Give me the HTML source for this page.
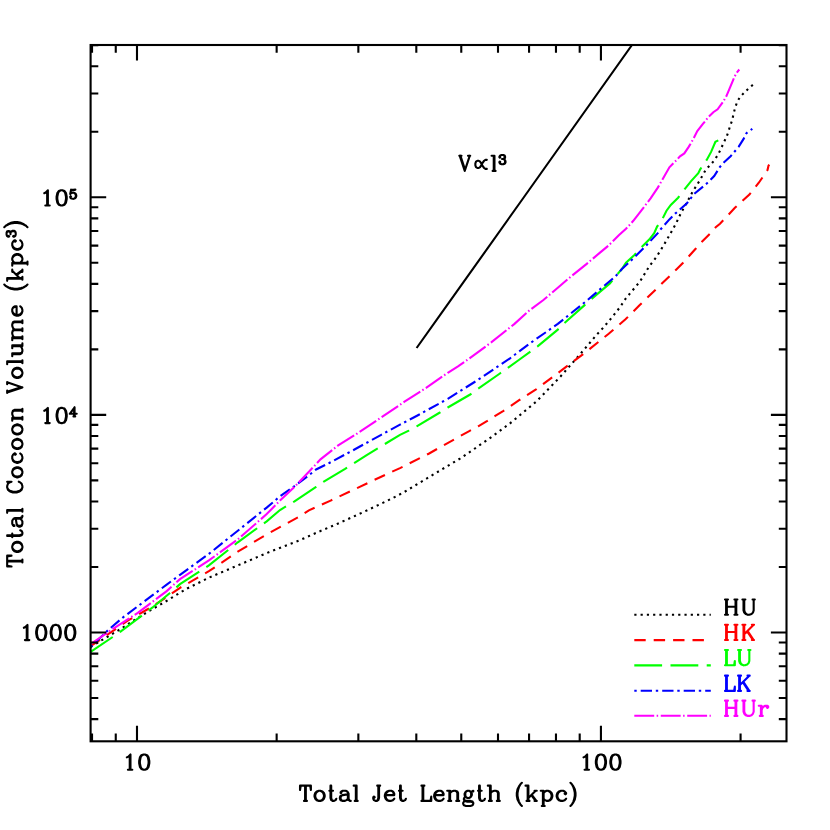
<!DOCTYPE html>
<html><head><meta charset="utf-8"><title>Total Cocoon Volume vs Total Jet Length</title>
<style>html,body{margin:0;padding:0;background:#fff;font-family:"Liberation Sans",sans-serif}svg{display:block}</style></head><body>
<svg width="830" height="830" viewBox="0 0 830 830">
<rect x="0" y="0" width="830" height="830" fill="#fff"/>
<defs><clipPath id="c"><rect x="90.6" y="45" width="695.9" height="696.3"/></clipPath></defs>
<g fill="none" stroke-width="2.1" clip-path="url(#c)">
<path d="M90.6 647L101.7 640.2L117.6 630.8L133.5 620.7L149.4 610.8L165.3 601.7L181.2 592L187.2 588.5L208.9 577.7L237.8 565.4L266.7 553.1L300 540.1L318.3 531.9L335.7 524.6L352.3 517.1L369.6 509.2L387 500.9L398.5 495.1L404.6 491.8L428.7 477.3L460 458.6L488.3 439.3L510 423.4L536.4 401.5L560.5 376.5L578.8 355.7L588.2 344.8L596.1 335.4L604.1 326.7L612 317.3L620 307.2L625.5 298.8L640 281.5L649.2 266.4L656.4 257L663.6 245.4L669.4 235.3L675.9 223.7L681 212.9L686.7 202.8L692.5 191.9L699.8 180.4L706 169.3L710.4 164.9L714.7 159.9L718.3 154.1L721.2 148.3L723.4 143.2L726.3 137.5L728.4 131.7L729.9 126.6L732 120.8L733.5 114.3L734.9 108.6L737.1 102L740 97L744.3 92.6L748.7 88.3L753 84.7" stroke="#000000" stroke-dasharray="2.2 4.07" stroke-dashoffset="0"/>
<path d="M90.6 646.2L108.9 633.7L127.7 620.7L148 609L161 600.8L180 587.8L208.9 571.2L237.8 551.7L266.7 534.3L300 516.3L308.9 510.3L330.6 500.6L356.6 488.3L381.2 476.7L400 468.1L428.7 453.7L460.8 435.7L468.8 431.3L478.2 426.3L486.9 421.2L494.8 416.1L503.5 410.8L519.5 400L536.4 389.2L560.5 371.1L584.6 353L608.7 333.7L625.5 319.3L640 304.8L676.6 269.3L683.1 262.8L688.9 256.3L696.1 248.3L701.9 241.8L709.9 233.9L715.7 227.3L720 223.7L734.9 207.8L749.4 194.6L759 182.5L767.5 170L768.5 165.7L769.3 164.6" stroke="#ff0000" stroke-dasharray="11.4 8" stroke-dashoffset="0"/>
<path d="M90.6 651.8L113.3 636.6L120.5 631.6L137.8 618.6L152.3 607.7L169.6 593.3L180 584.2L208.9 565.4L237.8 542.3L266.7 521.3L280 510L294.5 501.3L316.1 486.9L323.4 481.8L345.1 468.8L366.7 455.1L400 434.8L408.8 430.6L416.7 426.3L439.9 412.5L447.8 407.5L470.2 394.5L478.2 388.7L499.9 373.5L510 366.3L518.8 360L537.6 346.3L557.8 329.6L564.3 323.1L584.6 305.1L591.1 299.3L609.9 283.4L620 271.1L621.7 269.3L626 262.8L634.7 254.8L641.2 247.6L649.2 239.6L654.2 233.1L657.1 226.6L662.2 219.4L666.5 210.7L670.8 204.9L678.1 197.7L683.1 191.2L685.3 188.3L691.1 181.1L698.3 173.1L700.2 169.3L706.7 159.9L711.1 151.9L715.4 141.8L718.3 140.4" stroke="#00ff00" stroke-dasharray="27.8 8.4" stroke-dashoffset="1.2"/>
<path d="M90.6 646.9L108.9 629.4L123.4 617.1L137.8 606.3L152.3 595.4L166.7 584.6L180 574.8L208.9 553.9L237.8 530.7L266.7 507.6L280 496.3L294.5 486.1L308.9 475.3L316.1 469.5L329.2 463L352.3 450.7L381.2 434.8L400 424.7L418.9 414.7L447.8 398.8L476.7 380.7L510 358.3L528.9 344.1L557.8 323.9L572.3 312.3L586.7 300.7L601.2 288.4L615.7 276.1L621.7 269.3L633.3 258.4L646.3 245.4L657.8 233.1L660.7 229.2L669.4 219.4L675.2 213.6L686.7 203.5L694 194.1L707 183.3L714.2 176L719.8 167.1L723.4 162.8L730.6 156.3L734.9 151.2L738.6 146.9L743.6 138.9L746.5 133.1L752.3 128.8" stroke="#0000ff" stroke-dasharray="2.4 4 11.3 3.8" stroke-dashoffset="0"/>
<path d="M90.6 644L108.9 631.6L123.4 622.2L137.8 612.8L152.3 601.9L166.7 591.1L180 579.1L208.9 560.4L237.8 539.4L266.7 514.1L280 500.6L294.5 486.9L308.9 471.7L320.5 459.4L337.8 445.7L355.2 434.8L381.2 417.5L404.5 401.7L426.1 387.9L447.8 372.8L458 366.3L469.5 358.3L491.2 342.4L514.5 323.9L528.9 310.8L543.4 300L557.8 287.7L572.3 275.4L586.7 263.9L600 252.6L608.7 245.4L618.8 235.3L626 228.8L633.3 220.8L643.4 207.8L650.6 198.4L657.8 187.6L663.6 177.5L669.4 167.3L676.6 160.1L680 156.3L684.3 153.4L688.7 146.9L693 139.6L697.3 131L703.1 123.7L708.9 116.5L713.3 112.2L717.6 109.3L723.4 101.3L726.3 96.3L730.6 86.1L734.2 77.5L736.4 73.1L739.3 69.5" stroke="#ff00ff" stroke-dasharray="19.9 2.45 1.5 2.6" stroke-dashoffset="0"/>
<path d="M416.6 348L440 315.2L521.9 200L632 45" stroke="#000"/>
</g>
<g fill="none" stroke-width="2.1">
<path d="M634.3 614.8L710.8 614.8" stroke="#000000" stroke-dasharray="2.2 4.07"/>
<path d="M634.3 640.1L710.8 640.1" stroke="#ff0000" stroke-dasharray="11.4 8"/>
<path d="M634.3 665.4L710.8 665.4" stroke="#00ff00" stroke-dasharray="27.8 8.4"/>
<path d="M634.3 690.8L710.8 690.8" stroke="#0000ff" stroke-dasharray="2.4 4 11.3 3.8"/>
<path d="M634.3 715.8L710.8 715.8" stroke="#ff00ff" stroke-dasharray="19.9 2.45 1.5 2.6"/>
</g>
<g fill="none" stroke="#000" stroke-width="2.1">
<rect x="90.6" y="45" width="695.9" height="696.3"/>
<path d="M92.03 741.3v-7.7M92.03 45v7.7M115.76 741.3v-7.7M115.76 45v7.7M136.99 741.3v-15.6M136.99 45v15.6M276.65 741.3v-7.7M276.65 45v7.7M358.35 741.3v-7.7M358.35 45v7.7M416.31 741.3v-7.7M416.31 45v7.7M461.27 741.3v-7.7M461.27 45v7.7M498 741.3v-7.7M498 45v7.7M529.06 741.3v-7.7M529.06 45v7.7M555.97 741.3v-7.7M555.97 45v7.7M579.7 741.3v-7.7M579.7 45v7.7M600.93 741.3v-15.6M600.93 45v15.6M740.58 741.3v-7.7M740.58 45v7.7M90.6 719.09h7.7M786.5 719.09h-7.7M90.6 698.01h7.7M786.5 698.01h-7.7M90.6 680.78h7.7M786.5 680.78h-7.7M90.6 666.21h7.7M786.5 666.21h-7.7M90.6 653.59h7.7M786.5 653.59h-7.7M90.6 642.46h7.7M786.5 642.46h-7.7M90.6 632.5h15.6M786.5 632.5h-15.6M90.6 567h7.7M786.5 567h-7.7M90.6 528.68h7.7M786.5 528.68h-7.7M90.6 501.5h7.7M786.5 501.5h-7.7M90.6 480.41h7.7M786.5 480.41h-7.7M90.6 463.18h7.7M786.5 463.18h-7.7M90.6 448.62h7.7M786.5 448.62h-7.7M90.6 436h7.7M786.5 436h-7.7M90.6 424.87h7.7M786.5 424.87h-7.7M90.6 414.91h15.6M786.5 414.91h-15.6M90.6 349.41h7.7M786.5 349.41h-7.7M90.6 311.09h7.7M786.5 311.09h-7.7M90.6 283.9h7.7M786.5 283.9h-7.7M90.6 262.82h7.7M786.5 262.82h-7.7M90.6 245.59h7.7M786.5 245.59h-7.7M90.6 231.02h7.7M786.5 231.02h-7.7M90.6 218.4h7.7M786.5 218.4h-7.7M90.6 207.27h7.7M786.5 207.27h-7.7M90.6 197.32h15.6M786.5 197.32h-15.6M90.6 131.81h7.7M786.5 131.81h-7.7M90.6 93.5h7.7M786.5 93.5h-7.7M90.6 66.31h7.7M786.5 66.31h-7.7M90.6 45.22h7.7M786.5 45.22h-7.7"/>
</g>
<g fill="none" stroke-width="2.1" stroke-linecap="round" stroke-linejoin="round">
<path d="M305.1 785.67L305.1 800.9M305.83 785.67L305.83 800.9M300.75 785.67L300.02 790.02L300.02 785.67L310.9 785.67L310.9 790.02L310.18 785.67M303.98 800.9L306.95 800.9M318.88 790.75L316.7 791.48L315.25 792.92L314.53 795.1L314.53 796.55L315.25 798.73L316.7 800.17L318.88 800.9L320.33 800.9L322.5 800.17L323.95 798.73L324.68 796.55L324.68 795.1L323.95 792.92L322.5 791.48L320.33 790.75L318.88 790.75M318.88 790.75L317.43 791.48L315.98 792.92L315.25 795.1L315.25 796.55L315.98 798.73L317.43 800.17L318.88 800.9M320.33 800.9L321.78 800.17L323.23 798.73L323.95 796.55L323.95 795.1L323.23 792.92L321.78 791.48L320.33 790.75M330.48 785.67L330.48 798L331.2 800.17L332.65 800.9L334.1 800.9L335.55 800.17L336.27 798.73M331.2 785.67L331.2 798L331.93 800.17L332.65 800.9M329.35 790.75L333.05 790.75M341.35 792.2L341.35 792.92L340.62 792.92L340.62 792.2L341.35 791.48L342.8 790.75L345.7 790.75L347.15 791.48L347.88 792.2L348.6 793.65L348.6 798.73L349.33 800.17L350.05 800.9M347.88 792.2L347.88 798.73L348.6 800.17L350.05 800.9L350.77 800.9M347.88 793.65L347.15 794.38L342.8 795.1L340.62 795.82L339.9 797.27L339.9 798.73L340.62 800.17L342.8 800.9L344.98 800.9L346.43 800.17L347.88 798.73M342.8 795.1L341.35 795.82L340.62 797.27L340.62 798.73L341.35 800.17L342.8 800.9M355.85 785.67L355.85 800.9M356.58 785.67L356.58 800.9M353.68 785.67L356.58 785.67M354.73 800.9L357.7 800.9M379.05 785.67L379.05 798L378.33 800.17L376.88 800.9L375.43 800.9L373.98 800.17L373.25 798.73L373.25 797.27L373.98 796.55L374.7 797.27L373.98 798M378.33 785.67L378.33 798L377.6 800.17L376.88 800.9M377.2 785.67L380.17 785.67M385.58 795.1L394.27 795.1L394.27 793.65L393.55 792.2L392.83 791.48L391.38 790.75L389.2 790.75L387.02 791.48L385.58 792.92L384.85 795.1L384.85 796.55L385.58 798.73L387.02 800.17L389.2 800.9L390.65 800.9L392.83 800.17L394.27 798.73M393.55 795.1L393.55 792.92L392.83 791.48M389.2 790.75L387.75 791.48L386.3 792.92L385.58 795.1L385.58 796.55L386.3 798.73L387.75 800.17L389.2 800.9M400.08 785.67L400.08 798L400.8 800.17L402.25 800.9L403.7 800.9L405.15 800.17L405.88 798.73M400.8 785.67L400.8 798L401.53 800.17L402.25 800.9M398.95 790.75L402.65 790.75M422.55 785.67L422.55 800.9M423.27 785.67L423.27 800.9M421.43 785.67L424.4 785.67M421.43 800.9L431.25 800.9L431.25 796.55L430.52 800.9M434.88 795.1L443.58 795.1L443.58 793.65L442.85 792.2L442.12 791.48L440.68 790.75L438.5 790.75L436.33 791.48L434.88 792.92L434.15 795.1L434.15 796.55L434.88 798.73L436.33 800.17L438.5 800.9L439.95 800.9L442.12 800.17L443.58 798.73M442.85 795.1L442.85 792.92L442.12 791.48M438.5 790.75L437.05 791.48L435.6 792.92L434.88 795.1L434.88 796.55L435.6 798.73L437.05 800.17L438.5 800.9M449.38 790.75L449.38 800.9M450.1 790.75L450.1 800.9M450.1 792.92L451.55 791.48L453.73 790.75L455.18 790.75L457.35 791.48L458.08 792.92L458.08 800.9M455.18 790.75L456.62 791.48L457.35 792.92L457.35 800.9M447.2 790.75L450.1 790.75M448.25 800.9L451.22 800.9M456.23 800.9L459.2 800.9M467.5 790.75L466.05 791.48L465.33 792.2L464.6 793.65L464.6 795.1L465.33 796.55L466.05 797.27L467.5 798L468.95 798L470.4 797.27L471.12 796.55L471.85 795.1L471.85 793.65L471.12 792.2L470.4 791.48L468.95 790.75L467.5 790.75M466.05 791.48L465.33 792.92L465.33 795.82L466.05 797.27M470.4 797.27L471.12 795.82L471.12 792.92L470.4 791.48M471.12 792.2L471.85 791.48L473.3 790.75L473.3 791.48L471.85 791.48M465.33 796.55L464.6 797.27L463.88 798.73L463.88 799.45L464.6 800.9L466.77 801.62L470.4 801.62L472.58 802.35L473.3 803.07M463.88 799.45L464.6 800.17L466.77 800.9L470.4 800.9L472.58 801.62L473.3 803.07L473.3 803.8L472.58 805.25L470.4 805.98L466.05 805.98L463.88 805.25L463.15 803.8L463.15 803.07L463.88 801.62L466.05 800.9M479.1 785.67L479.1 798L479.83 800.17L481.28 800.9L482.73 800.9L484.18 800.17L484.9 798.73M479.83 785.67L479.83 798L480.55 800.17L481.28 800.9M477.98 790.75L481.67 790.75M489.98 785.67L489.98 800.9M490.7 785.67L490.7 800.9M490.7 792.92L492.15 791.48L494.33 790.75L495.78 790.75L497.95 791.48L498.68 792.92L498.68 800.9M495.78 790.75L497.23 791.48L497.95 792.92L497.95 800.9M487.8 785.67L490.7 785.67M488.85 800.9L491.82 800.9M496.83 800.9L499.8 800.9M521.88 782.77L520.42 784.23L518.98 786.4L517.52 789.3L516.8 792.92L516.8 795.82L517.52 799.45L518.98 802.35L520.42 804.52L521.88 805.98M520.42 784.23L518.98 787.12L518.25 789.3L517.52 792.92L517.52 795.82L518.25 799.45L518.98 801.62L520.42 804.52M527.67 785.67L527.67 800.9M528.4 785.67L528.4 800.9M535.65 790.75L528.4 798M532.02 795.1L536.38 800.9M531.3 795.1L535.65 800.9M525.5 785.67L528.4 785.67M534.53 790.75L536.77 790.75M526.55 800.9L529.52 800.9M534.53 800.9L536.77 800.9M542.9 790.75L542.9 805.98M543.62 790.75L543.62 805.98M543.62 792.92L545.08 791.48L546.52 790.75L547.98 790.75L550.15 791.48L551.6 792.92L552.33 795.1L552.33 796.55L551.6 798.73L550.15 800.17L547.98 800.9L546.52 800.9L545.08 800.17L543.62 798.73M547.98 790.75L549.42 791.48L550.88 792.92L551.6 795.1L551.6 796.55L550.88 798.73L549.42 800.17L547.98 800.9M540.73 790.75L543.62 790.75M541.78 805.98L544.75 805.98M565.38 792.92L564.65 793.65L565.38 794.38L566.1 793.65L566.1 792.92L564.65 791.48L563.2 790.75L561.02 790.75L558.85 791.48L557.4 792.92L556.67 795.1L556.67 796.55L557.4 798.73L558.85 800.17L561.02 800.9L562.48 800.9L564.65 800.17L566.1 798.73M561.02 790.75L559.58 791.48L558.12 792.92L557.4 795.1L557.4 796.55L558.12 798.73L559.58 800.17L561.02 800.9M570.45 782.77L571.9 784.23L573.35 786.4L574.8 789.3L575.52 792.92L575.52 795.82L574.8 799.45L573.35 802.35L571.9 804.52L570.45 805.98M571.9 784.23L573.35 787.12L574.08 789.3L574.8 792.92L574.8 795.82L574.08 799.45L573.35 801.62L571.9 804.52" stroke="#000"/>
<path d="M7.17 561.44L22.4 561.44M7.17 560.71L22.4 560.71M7.17 565.79L11.52 566.51L7.17 566.51L7.17 555.64L11.52 555.64L7.17 556.36M22.4 562.56L22.4 559.59M12.25 547.66L12.97 549.84L14.42 551.29L16.6 552.01L18.05 552.01L20.22 551.29L21.67 549.84L22.4 547.66L22.4 546.21L21.67 544.04L20.22 542.59L18.05 541.86L16.6 541.86L14.42 542.59L12.97 544.04L12.25 546.21L12.25 547.66M12.25 547.66L12.97 549.11L14.42 550.56L16.6 551.29L18.05 551.29L20.22 550.56L21.67 549.11L22.4 547.66M22.4 546.21L21.67 544.76L20.22 543.31L18.05 542.59L16.6 542.59L14.42 543.31L12.97 544.76L12.25 546.21M7.17 536.06L19.5 536.06L21.67 535.34L22.4 533.89L22.4 532.44L21.67 530.99L20.22 530.26M7.17 535.34L19.5 535.34L21.67 534.61L22.4 533.89M12.25 537.19L12.25 533.49M13.7 525.19L14.42 525.19L14.42 525.91L13.7 525.91L12.97 525.19L12.25 523.74L12.25 520.84L12.97 519.39L13.7 518.66L15.15 517.94L20.22 517.94L21.67 517.21L22.4 516.49M13.7 518.66L20.22 518.66L21.67 517.94L22.4 516.49L22.4 515.76M15.15 518.66L15.87 519.39L16.6 523.74L17.32 525.91L18.77 526.64L20.22 526.64L21.67 525.91L22.4 523.74L22.4 521.56L21.67 520.11L20.22 518.66M16.6 523.74L17.32 525.19L18.77 525.91L20.22 525.91L21.67 525.19L22.4 523.74M7.17 510.69L22.4 510.69M7.17 509.96L22.4 509.96M7.17 512.86L7.17 509.96M22.4 511.81L22.4 508.84M9.35 482.41L11.52 481.69L7.17 481.69L9.35 482.41L7.9 483.86L7.17 486.04L7.17 487.49L7.9 489.66L9.35 491.11L10.8 491.84L12.97 492.56L16.6 492.56L18.77 491.84L20.22 491.11L21.67 489.66L22.4 487.49L22.4 486.04L21.67 483.86L20.22 482.41L18.77 481.69M7.17 487.49L7.9 488.94L9.35 490.39L10.8 491.11L12.97 491.84L16.6 491.84L18.77 491.11L20.22 490.39L21.67 488.94L22.4 487.49M12.25 472.99L12.97 475.16L14.42 476.61L16.6 477.34L18.05 477.34L20.22 476.61L21.67 475.16L22.4 472.99L22.4 471.54L21.67 469.36L20.22 467.91L18.05 467.19L16.6 467.19L14.42 467.91L12.97 469.36L12.25 471.54L12.25 472.99M12.25 472.99L12.97 474.44L14.42 475.89L16.6 476.61L18.05 476.61L20.22 475.89L21.67 474.44L22.4 472.99M22.4 471.54L21.67 470.09L20.22 468.64L18.05 467.91L16.6 467.91L14.42 468.64L12.97 470.09L12.25 471.54M14.42 454.14L15.15 454.86L15.87 454.14L15.15 453.41L14.42 453.41L12.97 454.86L12.25 456.31L12.25 458.49L12.97 460.66L14.42 462.11L16.6 462.84L18.05 462.84L20.22 462.11L21.67 460.66L22.4 458.49L22.4 457.04L21.67 454.86L20.22 453.41M12.25 458.49L12.97 459.94L14.42 461.39L16.6 462.11L18.05 462.11L20.22 461.39L21.67 459.94L22.4 458.49M12.25 444.71L12.97 446.89L14.42 448.34L16.6 449.06L18.05 449.06L20.22 448.34L21.67 446.89L22.4 444.71L22.4 443.26L21.67 441.09L20.22 439.64L18.05 438.91L16.6 438.91L14.42 439.64L12.97 441.09L12.25 443.26L12.25 444.71M12.25 444.71L12.97 446.16L14.42 447.61L16.6 448.34L18.05 448.34L20.22 447.61L21.67 446.16L22.4 444.71M22.4 443.26L21.67 441.81L20.22 440.36L18.05 439.64L16.6 439.64L14.42 440.36L12.97 441.81L12.25 443.26M12.25 430.21L12.97 432.39L14.42 433.84L16.6 434.56L18.05 434.56L20.22 433.84L21.67 432.39L22.4 430.21L22.4 428.76L21.67 426.59L20.22 425.14L18.05 424.41L16.6 424.41L14.42 425.14L12.97 426.59L12.25 428.76L12.25 430.21M12.25 430.21L12.97 431.66L14.42 433.11L16.6 433.84L18.05 433.84L20.22 433.11L21.67 431.66L22.4 430.21M22.4 428.76L21.67 427.31L20.22 425.86L18.05 425.14L16.6 425.14L14.42 425.86L12.97 427.31L12.25 428.76M12.25 418.61L22.4 418.61M12.25 417.89L22.4 417.89M14.42 417.89L12.97 416.44L12.25 414.26L12.25 412.81L12.97 410.64L14.42 409.91L22.4 409.91M12.25 412.81L12.97 411.36L14.42 410.64L22.4 410.64M12.25 420.79L12.25 417.89M22.4 419.74L22.4 416.76M22.4 411.76L22.4 408.79M7.17 392.51L22.4 387.44M7.17 391.79L20.22 387.44M7.17 382.36L22.4 387.44M7.17 392.91L7.17 390.66M7.17 384.21L7.17 381.96M12.25 373.66L12.97 375.84L14.42 377.29L16.6 378.01L18.05 378.01L20.22 377.29L21.67 375.84L22.4 373.66L22.4 372.21L21.67 370.04L20.22 368.59L18.05 367.86L16.6 367.86L14.42 368.59L12.97 370.04L12.25 372.21L12.25 373.66M12.25 373.66L12.97 375.11L14.42 376.56L16.6 377.29L18.05 377.29L20.22 376.56L21.67 375.11L22.4 373.66M22.4 372.21L21.67 370.76L20.22 369.31L18.05 368.59L16.6 368.59L14.42 369.31L12.97 370.76L12.25 372.21M7.18 362.06L22.4 362.06M7.18 361.34L22.4 361.34M7.18 364.24L7.18 361.34M22.4 363.19L22.4 360.21M12.25 354.09L20.23 354.09L21.68 353.36L22.4 351.19L22.4 349.74L21.68 347.56L20.23 346.11M12.25 353.36L20.23 353.36L21.68 352.64L22.4 351.19M12.25 346.11L22.4 346.11M12.25 345.39L22.4 345.39M12.25 356.26L12.25 353.36M12.25 348.29L12.25 345.39M22.4 346.11L22.4 343.21M12.25 338.14L22.4 338.14M12.25 337.41L22.4 337.41M14.43 337.41L12.98 335.96L12.25 333.79L12.25 332.34L12.98 330.16L14.43 329.44L22.4 329.44M12.25 332.34L12.98 330.89L14.43 330.16L22.4 330.16M14.43 329.44L12.98 327.99L12.25 325.81L12.25 324.36L12.98 322.19L14.43 321.46L22.4 321.46M12.25 324.36L12.98 322.91L14.43 322.19L22.4 322.19M12.25 340.31L12.25 337.41M22.4 339.26L22.4 336.29M22.4 331.29L22.4 328.31M22.4 323.31L22.4 320.34M16.6 314.94L16.6 306.24L15.15 306.24L13.7 306.96L12.98 307.69L12.25 309.14L12.25 311.31L12.98 313.49L14.43 314.94L16.6 315.66L18.05 315.66L20.23 314.94L21.68 313.49L22.4 311.31L22.4 309.86L21.68 307.69L20.23 306.24M16.6 306.96L14.43 306.96L12.98 307.69M12.25 311.31L12.98 312.76L14.43 314.21L16.6 314.94L18.05 314.94L20.23 314.21L21.68 312.76L22.4 311.31M4.28 284.49L5.73 285.94L7.9 287.39L10.8 288.84L14.43 289.56L17.33 289.56L20.95 288.84L23.85 287.39L26.03 285.94L27.48 284.49M5.73 285.94L8.63 287.39L10.8 288.11L14.43 288.84L17.33 288.84L20.95 288.11L23.13 287.39L26.03 285.94M7.18 278.69L22.4 278.69M7.18 277.96L22.4 277.96M12.25 270.71L19.5 277.96M16.6 274.34L22.4 269.99M16.6 275.06L22.4 270.71M7.18 280.86L7.18 277.96M12.25 271.84L12.25 269.59M22.4 279.81L22.4 276.84M22.4 271.84L22.4 269.59M12.25 263.46L27.48 263.46M12.25 262.74L27.48 262.74M14.43 262.74L12.98 261.29L12.25 259.84L12.25 258.39L12.98 256.21L14.43 254.76L16.6 254.04L18.05 254.04L20.23 254.76L21.68 256.21L22.4 258.39L22.4 259.84L21.68 261.29L20.23 262.74M12.25 258.39L12.98 256.94L14.43 255.49L16.6 254.76L18.05 254.76L20.23 255.49L21.68 256.94L22.4 258.39M12.25 265.64L12.25 262.74M27.48 264.59L27.48 261.61M14.43 240.99L15.15 241.71L15.88 240.99L15.15 240.26L14.43 240.26L12.98 241.71L12.25 243.16L12.25 245.34L12.98 247.51L14.43 248.96L16.6 249.69L18.05 249.69L20.23 248.96L21.68 247.51L22.4 245.34L22.4 243.89L21.68 241.71L20.23 240.26M12.25 245.34L12.98 246.79L14.43 248.24L16.6 248.96L18.05 248.96L20.23 248.24L21.68 246.79L22.4 245.34M8.31 236.35L8.74 235.91L9.18 236.35L8.74 236.78L8.31 236.78L7.44 236.35L7 235.91L6.57 234.61L6.57 232.87L7 231.56L7.87 231.13L9.18 231.13L10.05 231.56L10.48 232.87L10.48 234.17M6.57 232.87L7 232L7.87 231.56L9.18 231.56L10.05 232L10.48 232.87M10.48 232.87L10.92 232L11.79 231.13L12.66 230.69L13.96 230.69L14.83 231.13L15.27 231.56L15.7 232.87L15.7 234.61L15.27 235.91L14.83 236.35L13.96 236.78L13.53 236.78L13.09 236.35L13.53 235.91L13.96 236.35M11.35 231.56L12.66 231.13L13.96 231.13L14.83 231.56L15.27 232L15.7 232.87M4.28 227.21L5.73 225.76L7.9 224.31L10.8 222.86L14.43 222.14L17.33 222.14L20.95 222.86L23.85 224.31L26.03 225.76L27.48 227.21M5.73 225.76L8.63 224.31L10.8 223.59L14.43 222.86L17.33 222.86L20.95 223.59L23.13 224.31L26.03 225.76" stroke="#000"/>
<path d="M126.84 757.38L128.29 756.65L130.47 754.48L130.47 769.7M129.74 755.2L129.74 769.7M127.89 769.7L132.32 769.7M143.52 754.48L141.34 755.2L139.89 757.38L139.17 761L139.17 763.18L139.89 766.8L141.34 768.98L143.52 769.7L144.97 769.7L147.14 768.98L148.59 766.8L149.32 763.18L149.32 761L148.59 757.38L147.14 755.2L144.97 754.48L143.52 754.48M143.52 754.48L142.07 755.2L141.34 755.93L140.62 757.38L139.89 761L139.89 763.18L140.62 766.8L141.34 768.25L142.07 768.98L143.52 769.7M144.97 769.7L146.42 768.98L147.14 768.25L147.87 766.8L148.59 763.18L148.59 761L147.87 757.38L147.14 755.93L146.42 755.2L144.97 754.48" stroke="#000"/>
<path d="M583.53 757.38L584.98 756.65L587.15 754.48L587.15 769.7M586.43 755.2L586.43 769.7M584.58 769.7L589 769.7M600.2 754.48L598.03 755.2L596.58 757.38L595.85 761L595.85 763.18L596.58 766.8L598.03 768.98L600.2 769.7L601.65 769.7L603.83 768.98L605.28 766.8L606 763.18L606 761L605.28 757.38L603.83 755.2L601.65 754.48L600.2 754.48M600.2 754.48L598.75 755.2L598.03 755.93L597.3 757.38L596.58 761L596.58 763.18L597.3 766.8L598.03 768.25L598.75 768.98L600.2 769.7M601.65 769.7L603.1 768.98L603.83 768.25L604.55 766.8L605.28 763.18L605.28 761L604.55 757.38L603.83 755.93L603.1 755.2L601.65 754.48M614.7 754.48L612.53 755.2L611.08 757.38L610.35 761L610.35 763.18L611.08 766.8L612.53 768.98L614.7 769.7L616.15 769.7L618.33 768.98L619.78 766.8L620.5 763.18L620.5 761L619.78 757.38L618.33 755.2L616.15 754.48L614.7 754.48M614.7 754.48L613.25 755.2L612.53 755.93L611.8 757.38L611.08 761L611.08 763.18L611.8 766.8L612.53 768.25L613.25 768.98L614.7 769.7M616.15 769.7L617.6 768.98L618.33 768.25L619.05 766.8L619.78 763.18L619.78 761L619.05 757.38L618.33 755.93L617.6 755.2L616.15 754.48" stroke="#000"/>
<path d="M23.85 627.78L25.3 627.05L27.48 624.88L27.48 640.1M26.75 625.6L26.75 640.1M24.9 640.1L29.32 640.1M40.52 624.88L38.35 625.6L36.9 627.78L36.17 631.4L36.17 633.58L36.9 637.2L38.35 639.38L40.52 640.1L41.98 640.1L44.15 639.38L45.6 637.2L46.33 633.58L46.33 631.4L45.6 627.78L44.15 625.6L41.98 624.88L40.52 624.88M40.52 624.88L39.08 625.6L38.35 626.33L37.62 627.78L36.9 631.4L36.9 633.58L37.62 637.2L38.35 638.65L39.08 639.38L40.52 640.1M41.98 640.1L43.42 639.38L44.15 638.65L44.88 637.2L45.6 633.58L45.6 631.4L44.88 627.78L44.15 626.33L43.42 625.6L41.98 624.88M55.02 624.88L52.85 625.6L51.4 627.78L50.67 631.4L50.67 633.58L51.4 637.2L52.85 639.38L55.02 640.1L56.48 640.1L58.65 639.38L60.1 637.2L60.83 633.58L60.83 631.4L60.1 627.78L58.65 625.6L56.48 624.88L55.02 624.88M55.02 624.88L53.58 625.6L52.85 626.33L52.12 627.78L51.4 631.4L51.4 633.58L52.12 637.2L52.85 638.65L53.58 639.38L55.02 640.1M56.48 640.1L57.92 639.38L58.65 638.65L59.38 637.2L60.1 633.58L60.1 631.4L59.38 627.78L58.65 626.33L57.92 625.6L56.48 624.88M69.53 624.88L67.35 625.6L65.9 627.78L65.17 631.4L65.17 633.58L65.9 637.2L67.35 639.38L69.53 640.1L70.97 640.1L73.15 639.38L74.6 637.2L75.33 633.58L75.33 631.4L74.6 627.78L73.15 625.6L70.97 624.88L69.53 624.88M69.53 624.88L68.08 625.6L67.35 626.33L66.62 627.78L65.9 631.4L65.9 633.58L66.62 637.2L67.35 638.65L68.08 639.38L69.53 640.1M70.97 640.1L72.42 639.38L73.15 638.65L73.88 637.2L74.6 633.58L74.6 631.4L73.88 627.78L73.15 626.33L72.42 625.6L70.97 624.88" stroke="#000"/>
<path d="M44.25 410.78L45.7 410.06L47.88 407.88L47.88 423.11M47.15 408.61L47.15 423.11M45.3 423.11L49.72 423.11M60.92 407.88L58.75 408.61L57.3 410.78L56.58 414.41L56.58 416.58L57.3 420.21L58.75 422.38L60.92 423.11L62.38 423.11L64.55 422.38L66 420.21L66.72 416.58L66.72 414.41L66 410.78L64.55 408.61L62.38 407.88L60.92 407.88M60.92 407.88L59.47 408.61L58.75 409.33L58.02 410.78L57.3 414.41L57.3 416.58L58.02 420.21L58.75 421.66L59.47 422.38L60.92 423.11M62.38 423.11L63.82 422.38L64.55 421.66L65.28 420.21L66 416.58L66 414.41L65.28 410.78L64.55 409.33L63.82 408.61L62.38 407.88M74.12 408.14L74.12 416.41M74.56 407.27L74.56 416.41M74.56 407.27L69.77 413.8L76.73 413.8M73.45 416.41L75.23 416.41" stroke="#000"/>
<path d="M44.25 193.19L45.7 192.47L47.88 190.29L47.88 205.52M47.15 191.02L47.15 205.52M45.3 205.52L49.72 205.52M60.92 190.29L58.75 191.02L57.3 193.19L56.58 196.82L56.58 198.99L57.3 202.62L58.75 204.79L60.92 205.52L62.38 205.52L64.55 204.79L66 202.62L66.72 198.99L66.72 196.82L66 193.19L64.55 191.02L62.38 190.29L60.92 190.29M60.92 190.29L59.47 191.02L58.75 191.74L58.02 193.19L57.3 196.82L57.3 198.99L58.02 202.62L58.75 204.07L59.47 204.79L60.92 205.52M62.38 205.52L63.82 204.79L64.55 204.07L65.28 202.62L66 198.99L66 196.82L65.28 193.19L64.55 191.74L63.82 191.02L62.38 190.29M71.08 189.68L70.2 194.03M70.2 194.03L71.08 193.16L72.38 192.73L73.69 192.73L74.99 193.16L75.86 194.03L76.29 195.34L76.29 196.21L75.86 197.51L74.99 198.38L73.69 198.82L72.38 198.82L71.08 198.38L70.64 197.95L70.2 197.08L70.2 196.64L70.64 196.21L71.08 196.64L70.64 197.08M73.69 192.73L74.56 193.16L75.42 194.03L75.86 195.34L75.86 196.21L75.42 197.51L74.56 198.38L73.69 198.82M71.71 189.68L74.79 189.68M71.08 190.12L73.25 190.12L75.42 189.68" stroke="#000"/>
<path d="M459.68 155.68L464.75 170.9M460.4 155.68L464.75 168.72M469.82 155.68L464.75 170.9M459.28 155.68L461.52 155.68M467.98 155.68L470.22 155.68M486.82 168.91L485.47 168.91L484.12 168L482.77 166.19L480.75 162.56L480.08 161.66L478.73 160.75L477.38 160.75L476.03 161.66L475.36 163.47L475.36 165.28L476.03 167.09L477.38 168L478.73 168L480.08 167.09L480.75 166.19L482.77 162.56L484.12 160.75L485.47 159.84L486.82 159.84M493.75 155.68L493.75 170.9M494.48 155.68L494.48 170.9M491.57 155.68L494.48 155.68M492.63 170.9L495.6 170.9M499.84 156.81L500.27 157.24L499.84 157.68L499.4 157.24L499.4 156.81L499.84 155.94L500.27 155.5L501.58 155.06L503.32 155.06L504.62 155.5L505.06 156.37L505.06 157.68L504.62 158.55L503.32 158.98L502.01 158.98M503.32 155.06L504.19 155.5L504.62 156.37L504.62 157.68L504.19 158.55L503.32 158.98M503.32 158.98L504.19 159.42L505.06 160.28L505.5 161.16L505.5 162.46L505.06 163.33L504.62 163.77L503.32 164.2L501.58 164.2L500.27 163.77L499.84 163.33L499.4 162.46L499.4 162.03L499.84 161.59L500.27 162.03L499.84 162.46M504.62 159.85L505.06 161.16L505.06 162.46L504.62 163.33L504.19 163.77L503.32 164.2" stroke="#000"/>
<path d="M726.12 599.57L726.12 614.8M726.85 599.57L726.85 614.8M735.55 599.57L735.55 614.8M736.27 599.57L736.27 614.8M725 599.57L727.97 599.57M734.43 599.57L737.4 599.57M726.85 606.82L735.55 606.82M725 614.8L727.97 614.8M734.43 614.8L737.4 614.8M743.52 599.57L743.52 610.45L744.25 612.62L745.7 614.07L747.88 614.8L749.33 614.8L751.5 614.07L752.95 612.62L753.67 610.45L753.67 599.57M744.25 599.57L744.25 610.45L744.98 612.62L746.42 614.07L747.88 614.8M742.4 599.57L745.37 599.57M752.55 599.57L754.8 599.57" stroke="#000000"/>
<path d="M726.12 624.77L726.12 640M726.85 624.77L726.85 640M735.55 624.77L735.55 640M736.27 624.77L736.27 640M725 624.77L727.97 624.77M734.43 624.77L737.4 624.77M726.85 632.02L735.55 632.02M725 640L727.97 640M734.43 640L737.4 640M743.52 624.77L743.52 640M744.25 624.77L744.25 640M753.67 624.77L744.25 634.2M747.88 631.3L753.67 640M747.15 631.3L752.95 640M742.4 624.77L745.37 624.77M751.83 624.77L754.07 624.77M742.4 640L745.37 640M751.83 640L754.07 640" stroke="#ff0000"/>
<path d="M726.12 650.07L726.12 665.3M726.85 650.07L726.85 665.3M725 650.07L727.97 650.07M725 665.3L734.83 665.3L734.83 660.95L734.1 665.3M739.17 650.07L739.17 660.95L739.9 663.12L741.35 664.57L743.52 665.3L744.98 665.3L747.15 664.57L748.6 663.12L749.33 660.95L749.33 650.07M739.9 650.07L739.9 660.95L740.62 663.12L742.08 664.57L743.52 665.3M738.05 650.07L741.02 650.07M748.2 650.07L750.45 650.07" stroke="#00ff00"/>
<path d="M726.12 675.67L726.12 690.9M726.85 675.67L726.85 690.9M725 675.67L727.97 675.67M725 690.9L734.83 690.9L734.83 686.55L734.1 690.9M739.17 675.67L739.17 690.9M739.9 675.67L739.9 690.9M749.33 675.67L739.9 685.1M743.52 682.2L749.33 690.9M742.8 682.2L748.6 690.9M738.05 675.67L741.02 675.67M747.48 675.67L749.72 675.67M738.05 690.9L741.02 690.9M747.48 690.9L749.72 690.9" stroke="#0000ff"/>
<path d="M726.12 700.67L726.12 715.9M726.85 700.67L726.85 715.9M735.55 700.67L735.55 715.9M736.27 700.67L736.27 715.9M725 700.67L727.97 700.67M734.43 700.67L737.4 700.67M726.85 707.92L735.55 707.92M725 715.9L727.97 715.9M734.43 715.9L737.4 715.9M743.52 700.67L743.52 711.55L744.25 713.73L745.7 715.17L747.88 715.9L749.33 715.9L751.5 715.17L752.95 713.73L753.67 711.55L753.67 700.67M744.25 700.67L744.25 711.55L744.98 713.73L746.42 715.17L747.88 715.9M742.4 700.67L745.37 700.67M752.55 700.67L754.8 700.67M760.92 705.75L760.92 715.9M761.65 705.75L761.65 715.9M761.65 710.1L762.38 707.92L763.83 706.48L765.27 705.75L767.45 705.75L768.17 706.48L768.17 707.2L767.45 707.92L766.73 707.2L767.45 706.48M758.75 705.75L761.65 705.75M759.8 715.9L762.77 715.9" stroke="#ff00ff"/>
</g>
</svg></body></html>
